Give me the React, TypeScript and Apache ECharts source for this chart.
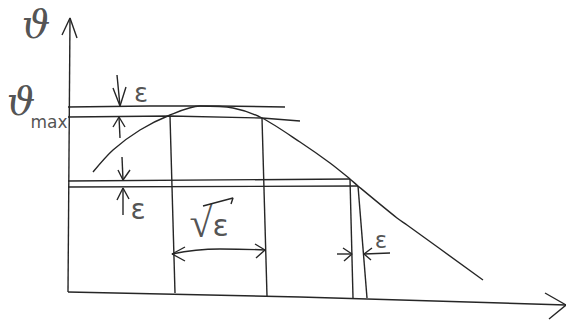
import React, { useEffect, useRef } from "react";
import * as echarts from "echarts";

// Sketch coordinates: origin at the axes' intersection, x to the right, y upward.
const yAxisLine = [[0, 0], [2, 274]];
const yAxisHead = [[-6, 257], [2, 274], [9, 254]];
const xAxisLine = [[0, 0], [232, -5], [498, -13]];
const xAxisHead = [[477, -1], [498, -13], [481, -27]];

const curve = [
  [25, 120], [45, 142], [72, 162], [102, 177], [132, 186], [165, 184],
  [194, 174], [232, 150], [262, 129], [282, 113], [290, 106], [329, 74],
  [339, 67], [415, 12],
];

const levelTop = [[0, 185], [82, 186], [150, 186], [217, 185]];
const levelMax = [[0, 175], [102, 176], [194, 174], [232, 171]];
const levelLow1 = [[0, 111], [282, 113]];
const levelLow2 = [[0, 105], [290, 106]];

const vert1 = [[102, 176], [107, -1]];
const vert2 = [[194, 174], [199, -4]];
const vert3 = [[282, 113], [285, -6]];
const vert4 = [[290, 106], [299, -6]];

const arrTopDownShaft = [[49, 217], [52, 186]];
const arrTopDownHead = [[45, 204], [52, 186], [58, 205]];
const arrTopUpShaft = [[52, 154], [51, 175]];
const arrTopUpHead = [[45, 165], [51, 175], [57, 165]];
const arrLowDownShaft = [[54, 135], [55, 112]];
const arrLowDownHead = [[50, 122], [55, 112], [62, 122]];
const arrLowUpShaft = [[55, 77], [55, 104]];
const arrLowUpHead = [[49, 92], [55, 104], [61, 93]];

const sqrtSpan = [[104, 38], [152, 43], [197, 42]];
const sqrtHeadL = [[117, 45], [104, 38], [117, 31]];
const sqrtHeadR = [[187, 48], [197, 42], [188, 34]];
const sqrtBar = [[135, 86], [165, 94], [163, 88]];

const epsArrLShaft = [[269, 38], [284, 38]];
const epsArrLHead = [[275, 44], [284, 38], [276, 31]];
const epsArrRShaft = [[322, 39], [296, 38]];
const epsArrRHead = [[304, 44], [296, 38], [303, 32]];

const labelTexts = ["ϑ", "ϑ", "max", "ε", "ε", "√ε", "ε"];
const labelPos = [
  [-32, 268], [-47, 191], [-19, 170], [73, 199], [70, 83], [141, 70], [313, 52],
];
const labelSizes = [40, 40, 17, 26, 28, 32, 23];
const labelFonts = [
  "DejaVu Serif", "DejaVu Serif", "DejaVu Sans", "DejaVu Sans",
  "DejaVu Sans", "DejaVu Sans", "DejaVu Sans",
];
const labelStyles = ["italic", "italic", "normal", "normal", "normal", "normal", "normal"];

const ink = "#262626";

export default function App() {
  const ref = useRef<HTMLDivElement>(null);
  useEffect(() => {
    if (!ref.current) return;
    const chart = echarts.init(ref.current, undefined, { renderer: "svg" });
    const strokes = [
      yAxisLine, yAxisHead, xAxisLine, xAxisHead,
      levelTop, levelMax, levelLow1, levelLow2,
      vert1, vert2, vert3, vert4,
      arrTopDownShaft, arrTopDownHead, arrTopUpShaft, arrTopUpHead,
      arrLowDownShaft, arrLowDownHead, arrLowUpShaft, arrLowUpHead,
      sqrtSpan, sqrtHeadL, sqrtHeadR, sqrtBar,
      epsArrLShaft, epsArrLHead, epsArrRShaft, epsArrRHead,
    ];
    const series: any[] = strokes.map((d) => ({
      type: "line",
      data: d,
      symbol: "none",
      clip: false,
      silent: true,
      smooth: d === sqrtSpan ? 0.5 : false,
      lineStyle: { color: ink, width: 1.4 },
    }));
    series.push({
      type: "line",
      data: curve,
      symbol: "none",
      clip: false,
      silent: true,
      smooth: 0.3,
      lineStyle: { color: ink, width: 1.4 },
    });
    series.push({
      type: "scatter",
      symbolSize: 0,
      silent: true,
      clip: false,
      data: labelTexts.map((t, i) => ({
        name: t,
        value: labelPos[i],
        label: {
          show: true,
          position: "inside",
          formatter: t === "√ε" ? "{r|√}{e|ε}" : "{b}",
          fontSize: labelSizes[i],
          fontStyle: labelStyles[i],
          fontWeight: "normal",
          color: ink,
          fontFamily: labelFonts[i],
          rich:
            t === "√ε"
              ? {
                  r: { fontSize: 42, fontFamily: "DejaVu Sans", color: ink, fontWeight: "lighter" },
                  e: { fontSize: 30, fontFamily: "DejaVu Sans", color: ink, padding: [6, 0, 0, 0] },
                }
              : undefined,
        },
      })),
    });
    chart.setOption({
      animation: false,
      backgroundColor: "#ffffff",
      grid: { left: 0, right: 0, top: 0, bottom: 0 },
      xAxis: { type: "value", min: -68, max: 498, show: false },
      yAxis: { type: "value", min: -30, max: 292, show: false },
      series,
    });
    return () => chart.dispose();
  }, []);
  return (
    <div
      ref={ref}
      style={{ position: "fixed", left: 0, top: 0, width: 566, height: 322 }}
    />
  );
}
